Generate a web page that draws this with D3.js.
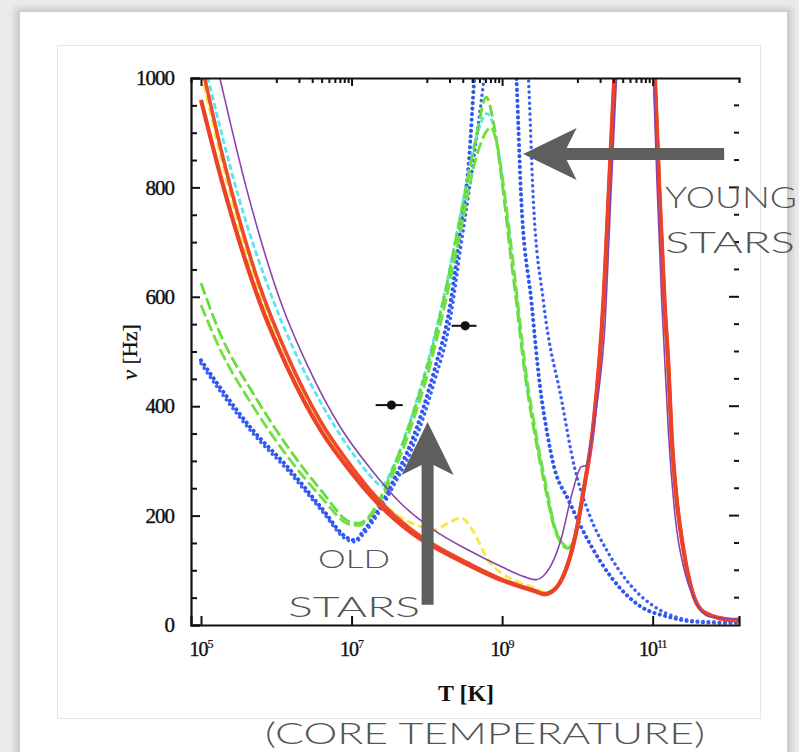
<!DOCTYPE html>
<html>
<head>
<meta charset="utf-8">
<script src="https://cdn.jsdelivr.net/npm/d3@7/dist/d3.min.js"></script>
<style>
  body { margin: 0; background: #ebebeb; }
  svg { display: block; }
</style>
</head>
<body>
<svg id="chart" width="799" height="752"></svg>
<script>
// values: x = log10(T [K]), y = nu [Hz]
var redLogT = [5.0, 5.3, 5.78, 6.14, 6.59, 7.03, 7.25, 7.48, 7.92, 8.09, 8.55, 8.99, 9.43, 9.56, 9.69, 9.83, 9.96, 10.09, 10.21, 10.35, 10.42, 10.49, 10.75, 11.03, 11.09, 11.16, 11.21, 11.25, 11.32, 11.41, 11.52, 11.65, 11.88, 12.05, 12.15];
var redNuA  = [960, 800, 590, 473, 356, 273, 237, 205, 157, 143, 110, 82, 62, 56, 64, 95, 155, 252, 362, 600, 800, 1000, 1700, 1000, 790, 585, 472, 351, 228, 137, 64, 27, 13, 9, 9];
var redNuB  = [1030, 850, 620, 495, 372, 284, 246, 212, 162, 147, 113, 84, 63, 57, 64, 95, 155, 252, 362, 600, 800, 1000, 1700, 1000, 790, 585, 472, 351, 228, 137, 64, 27, 13, 9, 9];

var yellowLogT = [5.0, 5.3, 5.78, 6.14, 6.59, 7.03, 7.25, 7.65, 7.92, 8.09, 8.28, 8.45, 8.63, 8.81, 8.99, 9.21, 9.43, 9.56, 9.69, 9.83, 9.96, 10.09, 10.21, 10.35, 10.42, 10.49, 10.75, 11.03, 11.16, 11.25, 11.41, 11.65, 12.05, 12.15];
var yellowNu   = [1010, 835, 605, 490, 365, 283, 245, 197, 180, 174, 186, 196, 168, 119, 95, 79, 68, 60, 66, 97, 157, 254, 364, 600, 800, 1000, 1700, 1000, 585, 351, 137, 27, 9, 9];

var cyanLogT = [5.0, 5.09, 5.5, 5.96, 6.3, 6.59, 7.03, 7.25, 7.4, 7.56, 7.79, 8.05, 8.25, 8.45, 8.65, 8.8, 8.9, 8.99, 9.12, 9.19, 9.29, 9.43, 9.56, 9.69, 9.8, 9.88, 9.96, 10.09, 10.21, 10.35, 10.42, 10.49, 10.75, 11.03, 11.16, 11.25, 11.41, 11.65, 12.05, 12.15];
var cyanNu   = [1050, 1000, 782, 593, 484, 407, 311, 273, 255, 292, 378, 500, 615, 752, 888, 935, 905, 830, 680, 600, 480, 358, 265, 182, 150, 142, 158, 252, 362, 600, 800, 1000, 1700, 1000, 585, 351, 137, 27, 9, 9];

var greenALogT = [5.0, 5.25, 5.69, 6.15, 6.59, 6.99, 7.1, 7.21, 7.39, 7.56, 7.79, 8.05, 8.25, 8.45, 8.65, 8.79, 8.88, 8.99, 9.12, 9.19, 9.29, 9.43, 9.56, 9.69, 9.79, 9.87, 9.96, 10.09, 10.21, 10.35, 10.42, 10.49, 10.75, 11.03, 11.16, 11.25, 11.41, 11.65, 12.05, 12.15];
var greenANu   = [625, 534, 424, 326, 247, 188, 186, 195, 234, 289, 375, 494, 612, 750, 887, 965, 923, 819, 667, 590, 472, 351, 260, 179, 148, 140, 158, 252, 362, 600, 800, 1000, 1700, 1000, 585, 351, 137, 27, 9, 9];
var greenBLogT = [5.0, 5.25, 5.69, 6.15, 6.59, 6.99, 7.1, 7.21, 7.39, 7.56, 7.79, 8.05, 8.25, 8.45, 8.65, 8.78, 8.85, 8.93, 9.05, 9.2, 9.3, 9.45, 9.58, 9.7, 9.8, 9.88, 9.96, 10.09, 10.21, 10.35, 10.42, 10.49, 10.75, 11.03, 11.16, 11.25, 11.41, 11.65, 12.05, 12.15];
var greenBNu   = [585, 505, 400, 308, 235, 183, 182, 192, 228, 280, 362, 478, 592, 722, 852, 900, 910, 880, 770, 600, 480, 350, 258, 180, 150, 142, 158, 252, 362, 600, 800, 1000, 1700, 1000, 585, 351, 137, 27, 9, 9];

var blueALogT = [5.0, 5.25, 5.69, 6.15, 6.59, 6.95, 7.05, 7.15, 7.35, 7.56, 7.79, 8.09, 8.32, 8.45, 8.56, 8.63, 8.9, 9.19, 9.25, 9.39, 9.5, 9.6, 9.69, 9.88, 10.05, 10.32, 10.59, 10.85, 11.21, 11.56, 12.05, 12.15];
var blueANu   = [484, 435, 356, 289, 216, 159, 155, 170, 210, 265, 333, 461, 594, 728, 850, 1000, 1400, 1000, 790, 590, 440, 350, 289, 229, 179, 113, 64, 33, 15, 6, 4, 4];
var blueBLogT = [5.0, 5.25, 5.69, 6.15, 6.59, 6.95, 7.05, 7.15, 7.35, 7.56, 7.79, 8.09, 8.32, 8.45, 8.6, 8.76, 9.05, 9.35, 9.41, 9.55, 9.79, 9.96, 10.15, 10.41, 10.68, 11.03, 11.3, 11.6, 12.05, 12.15];
var blueBNu   = [478, 428, 350, 283, 211, 155, 152, 165, 203, 255, 318, 440, 565, 690, 830, 1000, 1400, 1000, 790, 590, 411, 289, 205, 132, 77, 33, 15, 7, 5, 5];

var purpleLogT = [5.0, 5.25, 5.6, 6.05, 6.5, 6.85, 7.25, 7.65, 8.09, 8.55, 9.0, 9.3, 9.45, 9.55, 9.78, 9.93, 10.05, 10.12, 10.19, 10.28, 10.36, 10.45, 10.52, 10.76, 11.01, 11.06, 11.12, 11.21, 11.3, 11.43, 11.56, 11.75, 12.05, 12.15];
var purpleNu   = [1150, 1000, 800, 594, 450, 362, 286, 223, 174, 137, 106, 88, 83, 90, 155, 241, 289, 292, 338, 424, 534, 800, 1000, 1700, 1000, 800, 594, 351, 197, 95, 46, 15, 12, 12];

// observed stars (dot + horizontal error bar)
var obsLogT = [7.53, 8.51];
var obsNu   = [402, 547];
var obsLo   = [7.32, 8.33];
var obsHi   = [7.68, 8.66];

var yTicks = [0, 200, 400, 600, 800, 1000];
var xTickExp = [5, 7, 9, 11];

(function(){
  var svg = d3.select("#chart");
  var W = 799, H = 752;
  var pLeft = 191, pRight = 739, pTop = 78, pBottom = 625;

  var x = d3.scaleLog().domain([Math.pow(10, 4.867), Math.pow(10, 12.147)]).range([pLeft, pRight]);
  var y = d3.scaleLinear().domain([0, 1000]).range([pBottom, pTop]);

  // page card
  var defs = svg.append("defs");
  defs.append("filter").attr("id", "shadow")
    .append("feGaussianBlur").attr("stdDeviation", 3);
  defs.append("clipPath").attr("id", "plotclip")
    .append("rect").attr("x", pLeft).attr("y", pTop)
    .attr("width", pRight - pLeft).attr("height", pBottom - pTop);

  svg.append("rect").attr("x", 0).attr("y", 0).attr("width", W).attr("height", H).attr("fill", "#ebebeb");
  svg.append("rect").attr("x", 15).attr("y", 8).attr("width", 777).attr("height", 760)
    .attr("fill", "#c9c9c9").attr("filter", "url(#shadow)");
  svg.append("rect").attr("x", 20).attr("y", 12).attr("width", 767).attr("height", 760).attr("fill", "#fff");
  svg.append("rect").attr("x", 57.5).attr("y", 45.5).attr("width", 703).attr("height", 673)
    .attr("fill", "#fff").attr("stroke", "#e6e6e6");

  function series(logT, nu){
    return logT.map(function(t, i){ return [Math.pow(10, t), nu[i]]; });
  }
  var line = d3.line()
    .x(function(d){ return x(d[0]); })
    .y(function(d){ return y(d[1]); })
    .curve(d3.curveMonotoneX);

  var curves = [
    {pts: series(blueALogT, blueANu), color: "#2f55f0", width: 4, dash: "0.1,5.4", cap: "round"},
    {pts: series(blueBLogT, blueBNu), color: "#3a60f5", width: 3.4, dash: "0.1,5.4", cap: "round"},
    {pts: series(cyanLogT, cyanNu), color: "#55e6f2", width: 2.8, dash: "6,3", cap: "butt"},
    {pts: series(greenALogT, greenANu), color: "#66dd3a", width: 2.8, dash: "12,4", cap: "butt"},
    {pts: series(greenBLogT, greenBNu), color: "#70e040", width: 2.8, dash: "12,4", cap: "butt"},
    {pts: series(yellowLogT, yellowNu), color: "#f6e845", width: 2.8, dash: "8,4", cap: "butt"},
    {pts: series(redLogT, redNuB), color: "#ee4a2c", width: 3.6, dash: null, cap: "butt"},
    {pts: series(redLogT, redNuA), color: "#ec4328", width: 4.2, dash: null, cap: "butt"},
    {pts: series(purpleLogT, purpleNu), color: "#8a45a8", width: 1.6, dash: null, cap: "butt"}
  ];

  var g = svg.append("g").attr("clip-path", "url(#plotclip)");
  g.selectAll("path.curve")
    .data(curves)
    .enter()
    .append("path")
    .attr("class", "curve")
    .attr("d", function(d){ return line(d.pts); })
    .attr("fill", "none")
    .attr("stroke", function(d){ return d.color; })
    .attr("stroke-width", function(d){ return d.width; })
    .attr("stroke-linecap", function(d){ return d.cap; })
    .attr("stroke-dasharray", function(d){ return d.dash; });

  // observed points
  var obs = obsLogT.map(function(t, i){
    return {t: Math.pow(10, t), nu: obsNu[i], lo: Math.pow(10, obsLo[i]), hi: Math.pow(10, obsHi[i])};
  });
  svg.selectAll("line.err").data(obs).enter().append("line")
    .attr("class", "err")
    .attr("x1", function(d){ return x(d.lo); })
    .attr("x2", function(d){ return x(d.hi); })
    .attr("y1", function(d){ return y(d.nu); })
    .attr("y2", function(d){ return y(d.nu); })
    .attr("stroke", "#111").attr("stroke-width", 2);
  svg.selectAll("circle.obs").data(obs).enter().append("circle")
    .attr("class", "obs")
    .attr("cx", function(d){ return x(d.t); })
    .attr("cy", function(d){ return y(d.nu); })
    .attr("r", 4.6).attr("fill", "#111");

  // frame: left and bottom axes with labels, top and right ticks only
  var axisColor = "#111";
  var yAxis = d3.axisLeft(y).tickValues(yTicks).tickSize(-9).tickPadding(17).tickFormat(d3.format("d"));
  var yMinor = d3.axisLeft(y).tickValues(d3.range(50, 1000, 50).filter(function(v){ return v % 200; })).tickSize(-6).tickFormat("");
  var gy = svg.append("g").attr("transform", "translate(" + pLeft + ",0)").call(yAxis);
  svg.append("g").attr("transform", "translate(" + pLeft + ",0)").call(yMinor).select(".domain").remove();
  gy.selectAll("text").attr("font-family", "'Liberation Serif', serif").attr("font-size", 21)
    .attr("letter-spacing", "-1").attr("fill", "#111")
    .attr("stroke", "#111").attr("stroke-width", 0.4);

  var rightTicks = svg.append("g");
  rightTicks.selectAll("line").data(d3.range(50, 1000, 50)).enter().append("line")
    .attr("x1", function(d){ return pRight - (d % 200 ? 5 : 10); })
    .attr("x2", pRight)
    .attr("y1", function(d){ return y(d); })
    .attr("y2", function(d){ return y(d); })
    .attr("stroke", axisColor).attr("stroke-width", 2);

  var xMajor = xTickExp.map(function(e){ return Math.pow(10, e); });
  var xAxis = d3.axisBottom(x).tickValues(xMajor).tickSize(-9).tickFormat("");
  svg.append("g").attr("transform", "translate(0," + pBottom + ")").call(xAxis);

  // top frame line with log ticks
  var topMinor = [];
  [6, 8, 10].forEach(function(e){
    d3.range(1, 10).forEach(function(k){ topMinor.push(k * Math.pow(10, e)); });
  });
  var xTop = d3.axisTop(x).tickValues(topMinor).tickSize(-5).tickFormat("");
  var xTopMajor = d3.axisTop(x).tickValues(xMajor).tickSize(-8).tickFormat("");
  svg.append("g").attr("transform", "translate(0," + pTop + ")").call(xTop);
  svg.append("g").attr("transform", "translate(0," + pTop + ")").call(xTopMajor).select(".domain").remove();

  svg.selectAll(".domain").attr("stroke", axisColor).attr("stroke-width", 2.2);
  svg.selectAll(".tick line").attr("stroke", axisColor).attr("stroke-width", 2);

  // x tick labels 10^n
  var xl = svg.append("g").selectAll("text").data(xTickExp).enter().append("text")
    .attr("x", function(e){ return x(Math.pow(10, e)); })
    .attr("y", 656)
    .attr("text-anchor", "middle")
    .attr("font-family", "'Liberation Serif', serif")
    .attr("font-size", 20)
    .attr("letter-spacing", "-1")
    .attr("fill", "#111")
    .attr("stroke", "#111").attr("stroke-width", 0.4);
  xl.append("tspan").text("10");
  xl.append("tspan").attr("dy", -8).attr("font-size", 12).attr("stroke-width", 0.2).text(function(e){ return e; });

  // axis titles
  svg.append("text")
    .attr("x", 466).attr("y", 701)
    .attr("text-anchor", "middle")
    .attr("font-family", "'Liberation Serif', serif")
    .attr("font-size", 24).attr("font-weight", "bold").attr("fill", "#111")
    .text("T [K]");
  svg.append("text")
    .attr("transform", "translate(137,352) rotate(-90)")
    .attr("text-anchor", "middle")
    .attr("font-family", "'Liberation Serif', serif")
    .attr("font-size", 22).attr("fill", "#111")
    .attr("stroke", "#111").attr("stroke-width", 0.3)
    .html("<tspan font-style='italic'>ν</tspan> [Hz]");

  // annotation arrows (placed in data coordinates)
  var arrowColor = "#5e5e5e";
  var hTip = x(Math.pow(10, 9.28)), hEnd = x(Math.pow(10, 11.95)), hBase = x(Math.pow(10, 9.99)), hy = y(861);
  svg.append("path")
    .attr("d", "M" + hTip + "," + hy +
      "L" + hBase + "," + (hy - 26) +
      "L" + (hBase - 10) + "," + (hy - 6) +
      "L" + hEnd + "," + (hy - 6) +
      "L" + hEnd + "," + (hy + 6) +
      "L" + (hBase - 10) + "," + (hy + 6) +
      "L" + hBase + "," + (hy + 26) + "Z")
    .attr("fill", arrowColor);

  var vx = x(Math.pow(10, 8.01)), vTip = y(371), vBase = y(274), vEnd = y(37);
  svg.append("path")
    .attr("d", "M" + vx + "," + vTip +
      "L" + (vx + 26) + "," + vBase +
      "L" + (vx + 6) + "," + (vBase - 10) +
      "L" + (vx + 6) + "," + vEnd +
      "L" + (vx - 6) + "," + vEnd +
      "L" + (vx - 6) + "," + (vBase - 10) +
      "L" + (vx - 26) + "," + vBase + "Z")
    .attr("fill", arrowColor);

  // handwritten notes
  function note(txt, x0, y0, size, len){
    svg.append("text")
      .attr("x", x0).attr("y", y0)
      .attr("font-family", "Lato, 'Open Sans', sans-serif")
      .attr("font-weight", 300)
      .attr("font-size", size)
      .attr("fill", "#555")
      .attr("textLength", len)
      .attr("lengthAdjust", "spacingAndGlyphs")
      .text(txt);
  }
  note("YOUNG", 665, 208, 30, 132);
  note("STARS", 665, 253, 30, 130);
  note("OLD", 318, 568, 26, 72);
  note("STARS", 288, 617, 27, 132);
  note("(CORE TEMPERATURE)", 265, 744, 29, 440);
})();
</script>
</body>
</html>
